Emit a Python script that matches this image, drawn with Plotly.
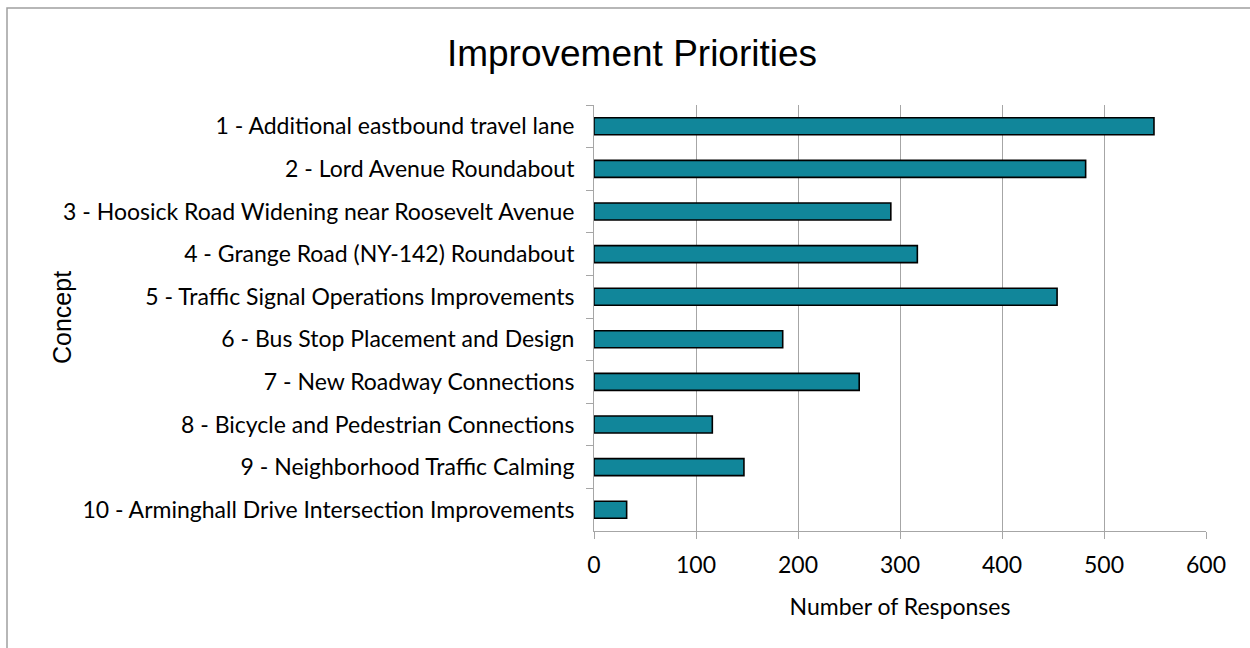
import plotly.graph_objects as go

# Survey results: number of responses per improvement concept
concepts = [
    "1 - Additional eastbound travel lane",
    "2 - Lord Avenue Roundabout",
    "3 - Hoosick Road Widening near Roosevelt Avenue",
    "4 - Grange Road (NY-142) Roundabout",
    "5 - Traffic Signal Operations Improvements",
    "6 - Bus Stop Placement and Design",
    "7 - New Roadway Connections",
    "8 - Bicycle and Pedestrian Connections",
    "9 - Neighborhood Traffic Calming",
    "10 - Arminghall Drive Intersection Improvements",
]
responses = [549, 482, 291, 317, 454, 185, 260, 116, 147, 32]
x_ticks = [0, 100, 200, 300, 400, 500, 600]

W, H = 1250, 648
L, R, T, B = 594, 44, 105, 117  # plot area 594..1206 x 105..531
plot_w = W - L - R
plot_h = H - T - B

label_font = "Lato, 'Open Sans', sans-serif"
arial = "'Liberation Sans', Arial, sans-serif"
grid_col = "#a6a6a6"

fig = go.Figure(
    go.Bar(
        x=responses,
        y=concepts,
        orientation="h",
        marker=dict(color="#11869A", line=dict(color="#000000", width=1.6)),
        width=0.4,
        hoverinfo="x+y",
    )
)

fig.update_layout(
    width=W,
    height=H,
    margin=dict(l=L, r=R, t=T, b=B, pad=0),
    paper_bgcolor="white",
    plot_bgcolor="white",
    showlegend=False,
    title=dict(
        text="Improvement Priorities",
        font=dict(family=arial, size=37, color="#000000"),
        x=632 / W,
        xanchor="center",
        xref="container",
        y=1 - 53 / H,
        yanchor="middle",
        yref="container",
    ),
    xaxis=dict(
        range=[0, 600],
        tickvals=x_ticks,
        ticktext=[str(v) for v in x_ticks],
        showgrid=True,
        gridcolor=grid_col,
        gridwidth=1,
        zeroline=False,
        showline=True,
        linecolor=grid_col,
        linewidth=1,
        ticks="outside",
        ticklen=7,
        tickcolor=grid_col,
        ticklabelstandoff=6,
        tickfont=dict(family=label_font, size=23, color="#000000"),
        title=dict(
            text="Number of Responses",
            font=dict(family=label_font, size=23, color="#000000"),
            standoff=22,
        ),
        fixedrange=True,
    ),
    yaxis=dict(
        type="category",
        categoryorder="array",
        categoryarray=concepts,
        autorange="reversed",
        showgrid=False,
        zeroline=False,
        showline=True,
        linecolor=grid_col,
        linewidth=1,
        ticks="outside",
        tickson="boundaries",
        ticklen=7,
        tickcolor=grid_col,
        ticklabelstandoff=14,
        tickfont=dict(family=label_font, size=23, color="#000000"),
        title=dict(text=""),
        fixedrange=True,
    ),
)

# Rotated y-axis title
fig.add_annotation(
    text="Concept",
    xref="paper",
    yref="paper",
    x=(62 - L) / plot_w,
    y=0.5,
    xanchor="center",
    yanchor="middle",
    textangle=-90,
    showarrow=False,
    font=dict(family=arial, size=25, color="#000000"),
)

# Chart-area frame
fig.add_shape(
    type="rect",
    xref="paper",
    yref="paper",
    x0=(7 - L) / plot_w,
    x1=(W + 20 - L) / plot_w,
    y0=-(H + 20 - (T + plot_h)) / plot_h,
    y1=(T + plot_h - 8) / plot_h,
    line=dict(color="#a0a0a0", width=1.5),
    fillcolor="rgba(0,0,0,0)",
    layer="below",
)

fig.write_html("out.html", config={"displayModeBar": False})
